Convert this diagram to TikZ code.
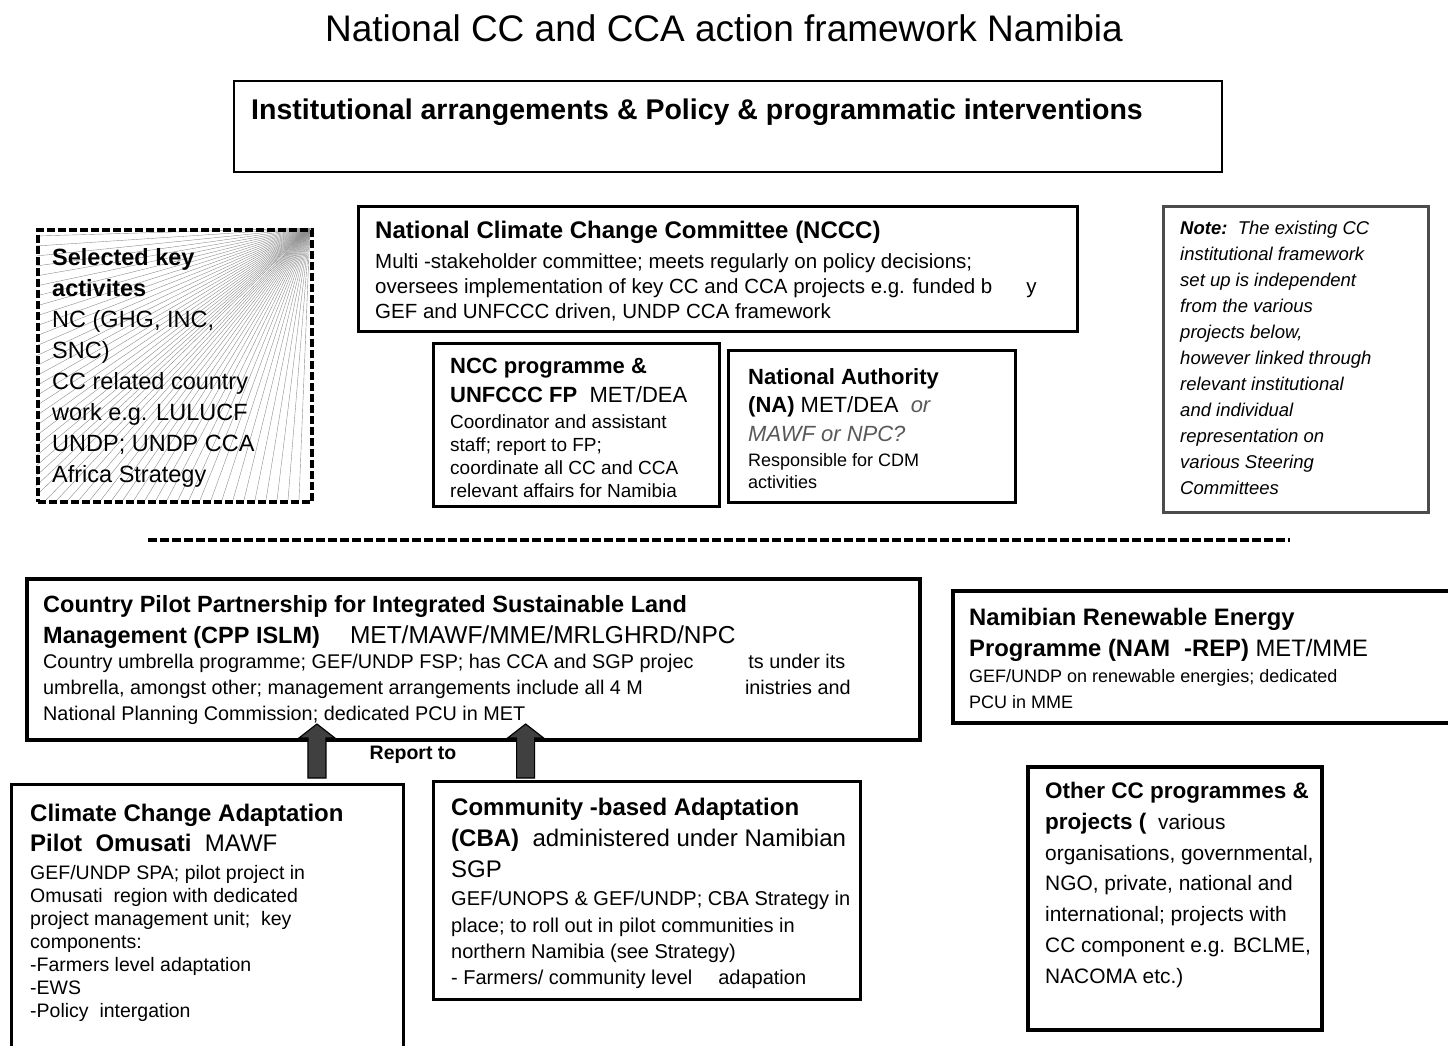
\documentclass[tikz,border=0pt]{standalone}
\usepackage{fontspec}
\setmainfont{Liberation Sans}
\usetikzlibrary{calc}
\newcommand{\fsz}[2]{\fontsize{#1}{#2}\selectfont}
\begin{document}
\begin{tikzpicture}[x=1pt,y=-1pt,
  box/.style={draw=black, line width=2.5pt, inner sep=0pt, anchor=north west},
  heavybox/.style={box, line width=4pt},
  shadowbox/.style={fill=black!35, draw=none, inner sep=0pt, anchor=north west},
  txt/.style={anchor=north west, inner sep=0pt, align=left, text=black},
  blockarrow/.style={fill=black!75, draw=black, line width=1.2pt, line join=miter},
]
\useasboundingbox (0,0) rectangle (1448,1045);

% title
\node[inner sep=0pt, font=\fsz{37}{44}] (title) at (724,28) {National CC and CCA action framework Namibia};

% top banner
\node[box, line width=2pt, minimum width=988pt, minimum height=91pt] (inst) at (233,80) {};
\node[txt, font=\fsz{28.5}{34}\bfseries] (insttxt) at (251,99) {Institutional arrangements \& Policy \& programmatic interventions};

% selected key activities: hatched panel with dashed border
\begin{scope}
  \clip (36,228) rectangle (310,500);
  \foreach \t in {236,246,...,500} \draw[black!45, line width=0.4pt] (310,228) -- (36,\t);
  \foreach \s in {46,57,...,305} \draw[black!45, line width=0.4pt] (310,228) -- (\s,500);
\end{scope}
\node[box, line width=3.5pt, dash pattern=on 8pt off 3pt, minimum width=274pt, minimum height=272pt] (sel) at (36,228) {};
\node[txt, font=\fsz{23.5}{31}] (seltxt) at (52,248) {\textbf{Selected key}\\\textbf{activites}\\NC (GHG, INC,\\SNC)\\CC related country\\work e.g. LULUCF\\UNDP; UNDP CCA\\Africa Strategy};

% NCCC
\node[shadowbox, minimum width=719pt, minimum height=125pt] at (359,207) {};
\node[box, fill=white, minimum width=719pt, minimum height=125pt] (nccc) at (357,205) {};
\node[txt, font=\fsz{24}{29}\bfseries] (nccct) at (375,221) {National Climate Change Committee (NCCC)};
\node[txt, font=\fsz{20.5}{25}] (ncccb) at (375,253) {Multi -stakeholder committee; meets regularly on policy decisions;\\oversees implementation of key CC and CCA projects e.g. funded b\hspace{34pt}y\\GEF and UNFCCC driven, UNDP CCA framework};

% NCC programme
\node[shadowbox, minimum width=286pt, minimum height=163pt] at (434,344) {};
\node[box, fill=white, minimum width=286pt, minimum height=163pt] (ncc) at (432,342) {};
\node[txt, font=\fsz{22}{29}] (ncct) at (450,358) {\textbf{NCC programme \&}\\\textbf{UNFCCC FP}\ \ MET/DEA};
\node[txt, font=\fsz{19}{23}] (nccb) at (450,415) {Coordinator and assistant\\staff; report to FP;\\coordinate all CC and CCA\\relevant affairs for Namibia};

% National Authority
\node[shadowbox, minimum width=287pt, minimum height=152pt] at (729,351) {};
\node[box, fill=white, minimum width=287pt, minimum height=152pt] (na) at (727,349) {};
\node[txt, font=\fsz{22}{28.5}] (nat) at (748,368) {\textbf{National Authority}\\\textbf{(NA)}\ MET/DEA\ \ {\itshape\color{black!65}or}\\{\itshape\color{black!65}MAWF or NPC?}};
\node[txt, font=\fsz{18}{22}] (nab) at (748,453) {Responsible for CDM\\activities};

% note
\node[box, draw=black!70, minimum width=265pt, minimum height=306pt] (note) at (1162,205) {};
\node[txt, font=\fsz{18.5}{26}\itshape] (notetxt) at (1180,221) {\textbf{Note:}\ \ The existing CC\\institutional framework\\set up is independent\\from the various\\projects below,\\however linked through\\relevant institutional\\and individual\\representation on\\various Steering\\Committees};

% separator
\draw[line width=4pt, dash pattern=on 9pt off 3pt] (148,540) coordinate (sepl) -- (1290,540) coordinate (sepr);

% CPP ISLM
\node[shadowbox, minimum width=893pt, minimum height=161pt] at (28,580) {};
\node[heavybox, fill=white, minimum width=893pt, minimum height=161pt] (cpp) at (25,577) {};
\node[txt, font=\fsz{23.5}{31}] (cppt) at (43,595) {\textbf{Country Pilot Partnership for Integrated Sustainable Land}\\\textbf{Management (CPP ISLM)}\hspace{30pt}{\fsz{24.5}{31}MET/MAWF/MME/MRLGHRD/NPC}};
\node[txt, font=\fsz{19.8}{26}] (cppb) at (43,654) {Country umbrella programme; GEF/UNDP FSP; has CCA and SGP projec\hspace{55pt}ts under its\\umbrella, amongst other; management arrangements include all 4 M\hspace{102pt}inistries and\\National Planning Commission; dedicated PCU in MET};

% NAM-REP
\node[shadowbox, minimum width=520pt, minimum height=132pt] at (954,592) {};
\node[heavybox, fill=white, minimum width=520pt, minimum height=132pt] (nam) at (951,589) {};
\node[txt, font=\fsz{23.8}{31}] (namt) at (969,608) {\textbf{Namibian Renewable Energy}\\\textbf{Programme (NAM\hspace{14pt}-REP)}\ MET/MME};
\node[txt, font=\fsz{18}{26}] (namb) at (969,669) {GEF/UNDP on renewable energies; dedicated\\PCU in MME};

% CCA pilot Omusati
\node[shadowbox, minimum width=392pt, minimum height=290pt] at (12,785) {};
\node[box, fill=white, minimum width=392pt, minimum height=290pt] (cca) at (10,783) {};
\node[txt, font=\fsz{24}{30}] (ccat) at (30,804) {\textbf{Climate Change Adaptation}\\\textbf{Pilot\ \ Omusati}\ \ MAWF};
\node[txt, font=\fsz{19.5}{23}] (ccab) at (30,865) {GEF/UNDP SPA; pilot project in\\Omusati\ \ region with dedicated\\project management unit;\ \ key\\components:\\-Farmers level adaptation\\-EWS\\-Policy\ \ intergation};

% CBA
\node[shadowbox, minimum width=427pt, minimum height=218pt] at (434,782) {};
\node[box, fill=white, minimum width=427pt, minimum height=218pt] (cba) at (432,780) {};
\node[txt, font=\fsz{24}{31}] (cbat) at (451,798) {\textbf{Community -based Adaptation}\\\textbf{(CBA)}\ \ administered under Namibian\\SGP};
\node[txt, font=\fsz{20}{26.3}] (cbab) at (451,891) {GEF/UNOPS \& GEF/UNDP; CBA Strategy in\\place; to roll out in pilot communities in\\northern Namibia (see Strategy)\\- Farmers/ community level\hspace{26pt}adapation};

% other programmes
\node[shadowbox, minimum width=294pt, minimum height=263pt] at (1029,768) {};
\node[heavybox, fill=white, minimum width=294pt, minimum height=263pt] (oth) at (1026,765) {};
\node[txt, font=\fsz{20.9}{30.8}] (otht) at (1045,782) {{\fsz{22.5}{30.8}\bfseries Other CC programmes \&}\\{\fsz{22.5}{30.8}\bfseries projects (}\ \ various\\organisations, governmental,\\NGO, private, national and\\international; projects with\\CC component e.g. BCLME,\\NACOMA etc.)};

% reporting arrows into CPP ISLM
\coordinate (ccatop) at ($(cca.north west)!0.778!(cca.north east)$);
\coordinate (cbatop) at ($(cba.north west)!0.218!(cba.north east)$);
\path[blockarrow] ($(ccatop)+(-9,-5)$) -- ($(ccatop)+(-9,-45)$) -- ($(ccatop)+(-18,-45)$) -- ($(ccatop)+(0,-59)$) -- ($(ccatop)+(18,-45)$) -- ($(ccatop)+(9,-45)$) -- ($(ccatop)+(9,-5)$) -- cycle;
\path[blockarrow] ($(cbatop)+(-9,-2)$) -- ($(cbatop)+(-9,-42)$) -- ($(cbatop)+(-18,-42)$) -- ($(cbatop)+(0,-56)$) -- ($(cbatop)+(18,-42)$) -- ($(cbatop)+(9,-42)$) -- ($(cbatop)+(9,-2)$) -- cycle;
\node[inner sep=0pt, font=\fsz{19.5}{23}\bfseries] (rep) at (413,755) {Report to};
\end{tikzpicture}
\end{document}
